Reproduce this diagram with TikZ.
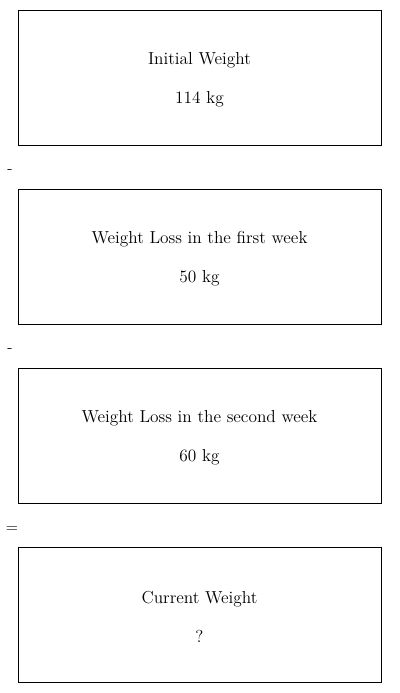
\documentclass[tikz,border=0pt]{standalone}
\usepackage{tikz}
\usetikzlibrary{positioning}

\begin{document}
\begin{tikzpicture}[
  x=0.75pt, y=-0.75pt,
  wbox/.style={
    rectangle, draw=black, line width=0.75pt,
    minimum width=272.25pt, minimum height=101.25pt,
    font=\fontsize{13}{15.5}\selectfont, align=center, inner sep=0pt,
    text height=42.3pt
  },
  op/.style={font=\large, inner sep=0pt},
]
\useasboundingbox (0,0) rectangle (400,693);

% Initial weight
\node[wbox] (initial) at (199.5,77.5) {
  Initial Weight\\[13.8pt]
  114 kg
};

% first week
\node[wbox, below=32.25pt of initial] (week1) {
  Weight Loss in the first week\\[13.8pt]
  50 kg
};

% second week
\node[wbox, below=32.25pt of week1] (week2) {
  Weight Loss in the second week\\[13.8pt]
  60 kg
};

% result
\node[wbox, below=32.25pt of week2] (current) {
  Current Weight\\[13.8pt]
  ?
};

% operators
\node[op] (minus1) at (10,172) {-};
\node[op] (minus2) at (10,351) {-};
\node[op] (equals) at (12,530) {=};

\end{tikzpicture}
\end{document}
